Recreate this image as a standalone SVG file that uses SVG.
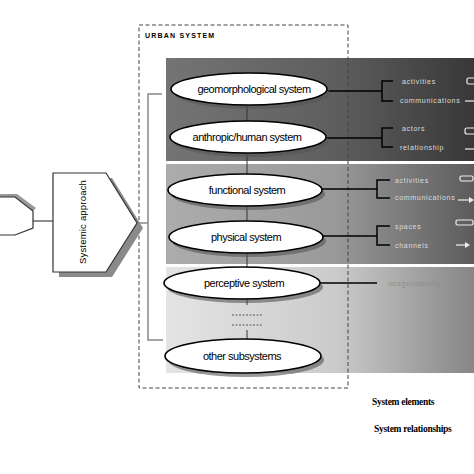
<svg xmlns="http://www.w3.org/2000/svg" width="474" height="474" viewBox="0 0 474 474">
<defs>
<linearGradient id="gDark" x1="166" y1="0" x2="474" y2="0" gradientUnits="userSpaceOnUse">
<stop offset="0" stop-color="#747474"/><stop offset="0.55" stop-color="#5e5e5e"/><stop offset="1" stop-color="#383838"/>
</linearGradient>
<linearGradient id="gMid" x1="166" y1="0" x2="474" y2="0" gradientUnits="userSpaceOnUse">
<stop offset="0" stop-color="#acacac"/><stop offset="0.55" stop-color="#999"/><stop offset="1" stop-color="#5c5c5c"/>
</linearGradient>
<linearGradient id="gLight" x1="166" y1="0" x2="474" y2="0" gradientUnits="userSpaceOnUse">
<stop offset="0" stop-color="#e4e4e4"/><stop offset="0.55" stop-color="#cbcbcb"/><stop offset="1" stop-color="#868686"/>
</linearGradient>
</defs>
<style>
.ell{fill:#fff;stroke:#000;stroke-width:1.6}
.sh{fill:#555;opacity:0.6}
.lbl{font-family:"Liberation Sans",Arial,sans-serif;font-size:11px;letter-spacing:-0.5px;text-anchor:middle;fill:#000}
.con{stroke:#000;stroke-width:1.5;fill:none}
.thin{stroke:#333;stroke-width:1;fill:none}
.br{stroke:#000;stroke-width:1.5;fill:none}
.rt{font-family:"Liberation Sans",Arial,sans-serif;font-size:7px;letter-spacing:0.7px;fill:#dcdcdc}
.gl{stroke:#888;stroke-width:1.5;fill:none}
.leg{font-family:"Liberation Serif","Times New Roman",serif;font-size:9.5px;font-weight:bold;letter-spacing:-0.3px;fill:#000}
.ic{fill:none;stroke:#eee;stroke-width:1.2}
</style>

<g id="bands">
<rect x="166" y="58" width="308" height="103" fill="url(#gDark)"/>
<rect x="166" y="164" width="308" height="100" fill="url(#gMid)"/>
<rect x="166" y="267" width="308" height="106" fill="url(#gLight)"/>
</g>

<g id="urban-system">
<rect x="139" y="25" width="209" height="363" fill="none" stroke="#444" stroke-width="1" stroke-dasharray="4,2.5"/>
<text x="145" y="38" font-family="Liberation Sans,Arial,sans-serif" font-size="7px" font-weight="bold" letter-spacing="1.2px" fill="#000">URBAN  SYSTEM</text>
</g>

<g id="connectors">
<line class="thin" x1="247" y1="105" x2="247" y2="305"/>
<line class="thin" x1="247" y1="330" x2="247" y2="340"/>
<line x1="232" y1="315" x2="263" y2="315" stroke="#555" stroke-width="1" stroke-dasharray="2,1.5"/>
<line x1="232" y1="325" x2="263" y2="325" stroke="#555" stroke-width="1" stroke-dasharray="2,1.5"/>
<polyline class="gl" points="162,94 148,94 148,340 163,340"/>
<line class="gl" x1="136" y1="223" x2="148" y2="223"/>
<line x1="33" y1="221" x2="53" y2="221" stroke="#444" stroke-width="1.2"/>
<line class="con" x1="327" y1="91" x2="382" y2="91"/>
<polyline class="br" points="393,81 382,81 382,101 393,101"/>
<line class="con" x1="325" y1="138" x2="382" y2="138"/>
<polyline class="br" points="393,128 382,128 382,147 393,147"/>
<line class="con" x1="322" y1="189" x2="377" y2="189"/>
<polyline class="br" points="390,180 377,180 377,198 390,198"/>
<line class="con" x1="323" y1="236" x2="377" y2="236"/>
<polyline class="br" points="390,226 377,226 377,245 390,245"/>
<line class="con" x1="320" y1="283" x2="377" y2="283"/>
</g>

<g id="left-shape">
<polygon points="-10,194 17,194 36,208 33,211 15,197 -10,197" fill="#999"/>
<polygon points="-10,197 15,197 33,211 33,228 15,235 -10,235" fill="#fff" stroke="#333" stroke-width="1.2"/>
</g>

<g id="systemic-approach">
<polygon points="59,178 112,178 143,228 112,277 59,277" fill="#8a8a8a"/>
<polygon points="53,173 106,173 137,223 106,272 53,272" fill="#fff" stroke="#333" stroke-width="1.2"/>
<text transform="translate(86,222) rotate(-90)" text-anchor="middle" font-family="Liberation Sans,Arial,sans-serif" font-size="9.5px" letter-spacing="0.2px" fill="#000">Systemic approach</text>
</g>

<g id="geomorphological">
<ellipse class="sh" cx="252" cy="93" rx="78" ry="16"/>
<ellipse class="ell" cx="249" cy="89" rx="78" ry="16"/>
<text class="lbl" x="254" y="93">geomorphological system</text>
</g>
<g id="anthropic">
<ellipse class="sh" cx="251" cy="141" rx="78" ry="16"/>
<ellipse class="ell" cx="248" cy="137" rx="78" ry="16"/>
<text class="lbl" x="247" y="141">anthropic/human system</text>
</g>
<g id="functional">
<ellipse class="sh" cx="248" cy="194" rx="77" ry="16"/>
<ellipse class="ell" cx="245" cy="190" rx="77" ry="16"/>
<text class="lbl" x="247" y="194">functional system</text>
</g>
<g id="physical">
<ellipse class="sh" cx="249" cy="241" rx="77" ry="16"/>
<ellipse class="ell" cx="246" cy="237" rx="77" ry="16"/>
<text class="lbl" x="246" y="241">physical system</text>
</g>
<g id="perceptive">
<ellipse class="sh" cx="245" cy="287" rx="78" ry="16"/>
<ellipse class="ell" cx="242" cy="283" rx="78" ry="16"/>
<text class="lbl" x="244" y="287">perceptive system</text>
</g>
<g id="other">
<ellipse class="sh" cx="246" cy="360" rx="78" ry="17"/>
<ellipse class="ell" cx="243" cy="356" rx="78" ry="17"/>
<text class="lbl" x="242" y="360">other subsystems</text>
</g>

<g id="right-labels">
<text class="rt" x="402" y="84">activities</text>
<text class="rt" x="400" y="103">communications</text>
<text class="rt" x="402" y="131">actors</text>
<text class="rt" x="400" y="150">relationship</text>
<text class="rt" x="395" y="183">activities</text>
<text class="rt" x="395" y="200">communications</text>
<text class="rt" x="395" y="229">spaces</text>
<text class="rt" x="395" y="248">channels</text>
<text class="rt" x="388" y="286" style="fill:#8c8c8c">image/identity</text>
</g>

<g id="icons">
<rect class="ic" x="467" y="78" width="12" height="6" rx="1.5"/>
<line class="ic" x1="465" y1="101" x2="474" y2="101"/>
<rect class="ic" x="465" y="128" width="12" height="6" rx="2"/>
<line class="ic" x1="465" y1="149" x2="474" y2="149"/>
<rect class="ic" x="460" y="176" width="13" height="5" rx="1.5"/>
<line class="ic" x1="458" y1="200" x2="470" y2="200"/>
<polygon points="469,197 474,200 469,203" fill="#eee"/>
<rect class="ic" x="456" y="220" width="17" height="5" rx="1.5"/>
<line class="ic" x1="456" y1="245" x2="466" y2="245"/>
<polygon points="465,242 470,245 465,248" fill="#eee"/>
</g>

<g id="legend">
<text class="leg" x="372" y="405">System elements</text>
<text class="leg" x="374" y="432">System relationships</text>
</g>
</svg>
